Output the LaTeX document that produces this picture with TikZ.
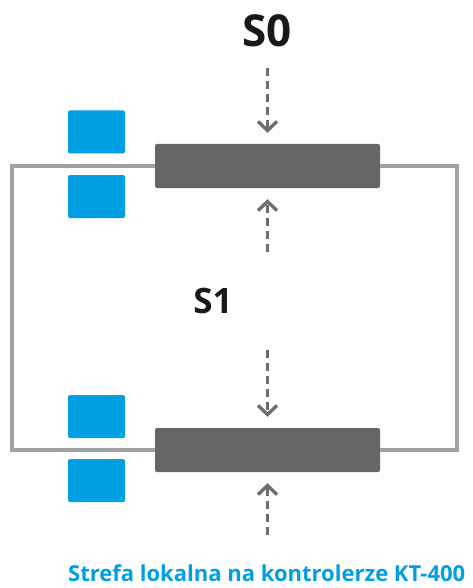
\documentclass[tikz,border=0pt]{standalone}
\usepackage{fontspec}
\setmainfont{Open Sans}
\usetikzlibrary{arrows.meta}
\definecolor{bar}{HTML}{666666}
\definecolor{loop}{HTML}{A0A0A0}
\definecolor{blu}{HTML}{009FE3}
\definecolor{arr}{HTML}{6E6E6E}
\begin{document}
\begin{tikzpicture}[x=1pt,y=-1pt,
  barbox/.style={fill=bar, rounded corners=2pt, minimum width=225pt, minimum height=44pt, inner sep=0pt},
  bluebox/.style={fill=blu, rounded corners=2pt, minimum width=57pt, minimum height=43pt, inner sep=0pt},
  loopline/.style={draw=loop, line width=3.5pt},
  dasharrow/.style={draw=arr, line width=3.6pt, dash pattern=on 8pt off 5pt, shorten >=11pt, -{Straight Barb[length=9pt,width=19pt,line width=3.4pt]}},
  lbl/.style={font=\bfseries, text=black!90, inner sep=0pt}]
\useasboundingbox (0,0) rectangle (472,588);
\node[barbox] (b1) at (267.5,166) {};
\node[barbox] (b2) at (267.5,450) {};
\node[bluebox] (u1) at (96.5,132) {};
\node[bluebox] (u2) at (96.5,196.5) {};
\node[bluebox] (u3) at (96.5,416.5) {};
\node[bluebox] (u4) at (96.5,480.5) {};
\coordinate (cl) at (12,0);
\coordinate (cr) at (457,0);
\draw[loopline] (b1.west) -- (b1.west -| cl) -- (b2.west -| cl) -- (b2.west);
\draw[loopline] (b1.east) -- (b1.east -| cr) -- (b2.east -| cr) -- (b2.east);
\node[lbl, font=\fontsize{44}{44}\selectfont\bfseries] (s0) at (267,31) {S0};
\node[lbl, font=\fontsize{35}{35}\selectfont\bfseries] (s1) at (213,301) {S1};
\coordinate (a1) at (267.5,68);
\coordinate (a2) at (267.5,252);
\coordinate (a3) at (267.5,350);
\coordinate (a4) at (267.5,535);
\draw[dasharrow] (a1) -- (b1.north);
\draw[dasharrow] (a2) -- (b1.south);
\draw[dasharrow] (a3) -- (b2.north);
\draw[dasharrow] (a4) -- (b2.south);
\node[lbl, text=blu, font=\fontsize{22}{22}\selectfont\bfseries, anchor=base west] (cap) at (68,581) {Strefa lokalna na kontrolerze KT-400};
\end{tikzpicture}
\end{document}
